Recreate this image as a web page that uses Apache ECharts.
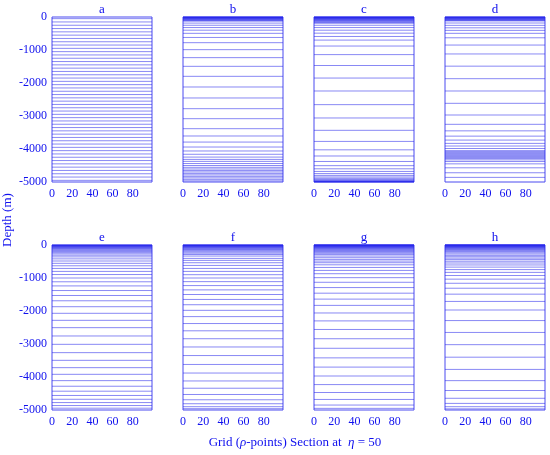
<!DOCTYPE html>
<html>
<head>
<meta charset="utf-8">
<script src="https://cdn.jsdelivr.net/npm/echarts@6/dist/echarts.min.js"></script>
<style>
html, body { margin: 0; padding: 0; background: #fff; }
#chart { width: 550px; height: 455px; }
</style>
</head>
<body>
<div id="chart"></div>
<script>
// --- data: depth (m below surface) of each vertical level, per panel ---
var panelNames = ['a', 'b', 'c', 'd', 'e', 'f', 'g', 'h'];

var depthA = [50, 150, 250, 350, 450, 550, 650, 750, 850, 950, 1050, 1150, 1250, 1350, 1450, 1550, 1650,
	1750, 1850, 1950, 2050, 2150, 2250, 2350, 2450, 2550, 2650, 2750, 2850, 2950, 3050, 3150, 3250, 3350,
	3450, 3550, 3650, 3750, 3850, 3950, 4050, 4150, 4250, 4350, 4450, 4550, 4650, 4750, 4850, 4950];
var depthB = [2, 5, 9, 14, 20, 27, 35, 44, 54, 66, 79, 93, 108,
	125, 185, 250, 320, 400, 495, 620, 778, 990, 1232, 1495, 1798, 2121, 2454, 2778, 3081, 3384, 3606,
	3790, 3940, 4060, 4160, 4245, 4315, 4375,
	4440, 4500, 4555, 4605, 4650, 4695, 4740, 4785, 4830, 4875, 4920, 4965];
var depthC = [2, 5, 9, 14, 20, 27, 35, 44, 54, 65, 78, 92, 108, 125, 145, 165,
	190, 250, 320, 400, 490, 590, 700, 880, 1140, 1470, 1850, 2242, 2656, 3060, 3434, 3770, 4025, 4212,
	4378, 4505, 4600, 4680,
	4745, 4800, 4848, 4888, 4920, 4945, 4963, 4976, 4985, 4991, 4995, 4998];
var depthD = [3, 7, 12, 18, 25, 33, 42, 52, 63, 76, 90, 105,
	120, 182, 253, 328, 405, 495, 630, 850, 1120, 1490, 1869, 2242, 2616, 2970, 3252, 3450, 3610, 3730,
	3830, 3910, 3985, 4050,
	4080, 4110, 4140, 4170, 4200, 4230, 4260, 4290,
	4330, 4380, 4450, 4570, 4720, 4860];
var depthE = [3, 8, 14, 21, 29, 38, 48, 60, 73, 88, 105, 125, 148, 172, 200,
	232, 268, 310, 360, 420, 485, 555, 630, 710, 800, 895, 1000, 1115, 1240, 1380, 1530, 1690, 1870,
	2070, 2283, 2505, 2757, 3010, 3262, 3495, 3717, 3919, 4110, 4280, 4430, 4560, 4675, 4775, 4865, 4945];
var depthF = [2, 5, 9, 14, 20, 27, 35, 44, 55, 67, 81, 97, 115, 135, 158, 184, 214, 248, 288,
	335, 406, 466, 537, 619, 710, 800, 900, 1000, 1110, 1230, 1360, 1500, 1650, 1810, 1980, 2170, 2380,
	2600, 2840, 3090, 3350, 3620, 3880, 4120, 4340, 4530, 4690, 4810, 4900, 4960];
var depthG = [1, 3, 5, 8, 12, 17, 23, 30, 38, 47, 57, 68, 80, 94, 110, 128, 148, 170, 195, 222, 252, 290,
	335, 385, 436, 487, 537, 600, 680, 770, 870, 990, 1130, 1290, 1460, 1640, 1830, 2060, 2300, 2560,
	2840, 3130, 3420, 3700, 3970, 4230, 4470, 4680, 4850, 4950];
var depthH = [1, 2, 4, 7, 10, 14, 19, 25, 32, 40, 49, 59, 70, 83, 97, 113, 131, 151, 174, 200, 235, 272,
	314, 355, 398, 443, 492, 545, 605, 670, 745, 830, 925, 1035, 1160, 1310, 1490, 1710, 1970, 2290,
	2650, 3020, 3400, 3770, 4110, 4410, 4645, 4800, 4900, 4965];

var panelDepths = [depthA, depthB, depthC, depthD, depthE, depthF, depthG, depthH];

var xMin = 0, xMax = 99, xStep = 20;
var yMin = -5000, yMax = 0, yStep = 1000;

// --- layout ---
var blue = '#1010ee';
var serif = '"Liberation Serif", "DejaVu Serif", serif';
var colLeft = [52, 183, 314, 445];
var rowTop = [17, 245];
var panelW = 100, panelH = 165;

var chart = echarts.init(document.getElementById('chart'), null, {renderer: 'canvas'});

var grids = [], xAxes = [], yAxes = [], series = [], texts = [];

for (var i = 0; i < panelNames.length; i++) {
	var col = i % 4, row = Math.floor(i / 4);

	grids.push({
		left: colLeft[col], top: rowTop[row], width: panelW, height: panelH,
		show: true, borderColor: '#4a4af0', borderWidth: 1, backgroundColor: 'transparent'
	});

	xAxes.push({
		gridIndex: i, type: 'value', min: xMin, max: xMax, interval: xStep,
		axisLine: {show: false}, axisTick: {show: false}, splitLine: {show: false},
		axisLabel: {
			color: blue, fontFamily: serif, fontSize: 12, margin: 6,
			formatter: function(v) { return v % 20 === 0 ? String(v) : ''; }
		}
	});

	yAxes.push({
		gridIndex: i, type: 'value', min: yMin, max: yMax, interval: yStep,
		axisLine: {show: false}, axisTick: {show: false}, splitLine: {show: false},
		axisLabel: {
			show: col === 0, color: blue, fontFamily: serif, fontSize: 12, margin: 5,
			formatter: function(v) { return String(v); }
		}
	});

	series.push({
		type: 'custom',
		xAxisIndex: i, yAxisIndex: i,
		silent: true,
		animation: false,
		data: panelDepths[i].map(function(d) { return [xMin, -d]; }),
		renderItem: function(params, api) {
			var z = api.value(1);
			var p0 = api.coord([xMin, z]);
			var p1 = api.coord([xMax, z]);
			return {
				type: 'line',
				shape: {x1: p0[0], y1: p0[1], x2: p1[0], y2: p1[1]},
				style: {stroke: 'rgba(40,40,235,0.55)', lineWidth: 1}
			};
		}
	});

	texts.push({
		type: 'text',
		x: colLeft[col] + panelW / 2,
		y: rowTop[row] - 7,
		style: {
			text: panelNames[i], fill: blue, font: '13px ' + serif,
			textAlign: 'center', textVerticalAlign: 'middle', align: 'center', verticalAlign: 'middle'
		}
	});
}

// axis names
texts.push({
	type: 'text', x: 8, y: 220, rotation: Math.PI / 2,
	style: {
		text: 'Depth (m)', fill: blue, font: '13px ' + serif,
		textAlign: 'center', textVerticalAlign: 'middle', align: 'center', verticalAlign: 'middle'
	}
});
texts.push({
	type: 'text', x: 295, y: 443,
	style: {
		text: 'Grid ({i|ρ}-points) Section at  {i|η} = 50', fill: blue, font: '13px ' + serif,
		textAlign: 'center', textVerticalAlign: 'middle', align: 'center', verticalAlign: 'middle',
		rich: {i: {fontStyle: 'italic', fontFamily: serif, fontSize: 13, fill: blue, color: blue}}
	}
});

chart.setOption({
	animation: false,
	grid: grids,
	xAxis: xAxes,
	yAxis: yAxes,
	series: series,
	graphic: {elements: texts}
});
</script>
</body>
</html>
